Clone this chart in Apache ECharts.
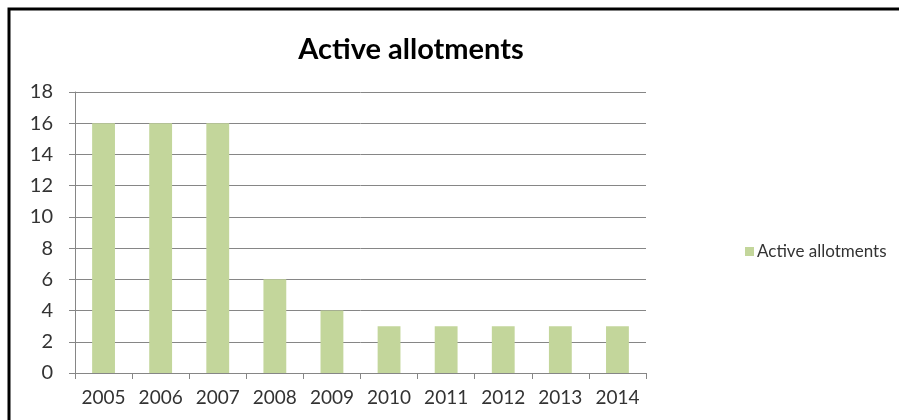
<!DOCTYPE html>
<html>
<head>
<meta charset="utf-8">
<script src="https://cdn.jsdelivr.net/npm/echarts@6/dist/echarts.min.js"></script>
<style>
  html, body { margin: 0; padding: 0; background: #ffffff; overflow: hidden; }
  #chart { width: 899px; height: 420px; }
</style>
</head>
<body>
<div id="chart"></div>
<script>
// Number of active allotments per year
const years = ['2005', '2006', '2007', '2008', '2009', '2010', '2011', '2012', '2013', '2014'];
const activeAllotments = [16, 16, 16, 6, 4, 3, 3, 3, 3, 3];
const seriesName = 'Active allotments';
const chartTitle = 'Active allotments';

const FONT = 'Lato, "Open Sans", sans-serif';
const AXIS_GREY = '#868686';
const TEXT = '#333333';

const chart = echarts.init(document.getElementById('chart'), null, { renderer: 'canvas' });

chart.setOption({
  animation: false,
  backgroundColor: '#ffffff',
  title: {
    text: chartTitle,
    left: 406,
    top: 30,
    textAlign: 'center',
    textStyle: { fontFamily: FONT, fontWeight: 'bold', fontSize: 29, color: '#000000' }
  },
  legend: {
    data: [seriesName],
    orient: 'vertical',
    left: 740,
    top: 238,
    icon: 'rect',
    itemWidth: 9,
    itemHeight: 9,
    itemGap: 0,
    textStyle: { fontFamily: FONT, fontSize: 17, color: TEXT, padding: [0, 0, 0, -2] }
  },
  grid: { left: 75, right: 253, top: 92, bottom: 47, containLabel: false },
  xAxis: {
    type: 'category',
    data: years,
    axisLine: { lineStyle: { color: AXIS_GREY, width: 1 } },
    axisTick: { show: true, length: 6, alignWithLabel: false, lineStyle: { color: AXIS_GREY } },
    axisLabel: { interval: 0, fontFamily: FONT, fontSize: 19, color: TEXT, margin: 15 }
  },
  yAxis: {
    type: 'value',
    min: 0,
    max: 18,
    interval: 2,
    axisLine: { show: true, lineStyle: { color: AXIS_GREY, width: 1 } },
    axisTick: { show: true, length: 6, lineStyle: { color: AXIS_GREY } },
    splitLine: { lineStyle: { color: AXIS_GREY, width: 1 } },
    axisLabel: { fontFamily: FONT, fontSize: 20, color: TEXT, margin: 22 }
  },
  series: [{
    name: seriesName,
    type: 'bar',
    data: activeAllotments,
    barWidth: '40%',
    itemStyle: { color: '#c3d69b' }
  }],
  graphic: [{
    // frame: left and top edges only
    type: 'polyline',
    shape: { points: [[9, 440], [9, 9], [940, 9]] },
    style: { fill: null, stroke: '#000000', lineWidth: 3 },
    silent: true,
    z: 100
  }]
});
</script>
</body>
</html>
